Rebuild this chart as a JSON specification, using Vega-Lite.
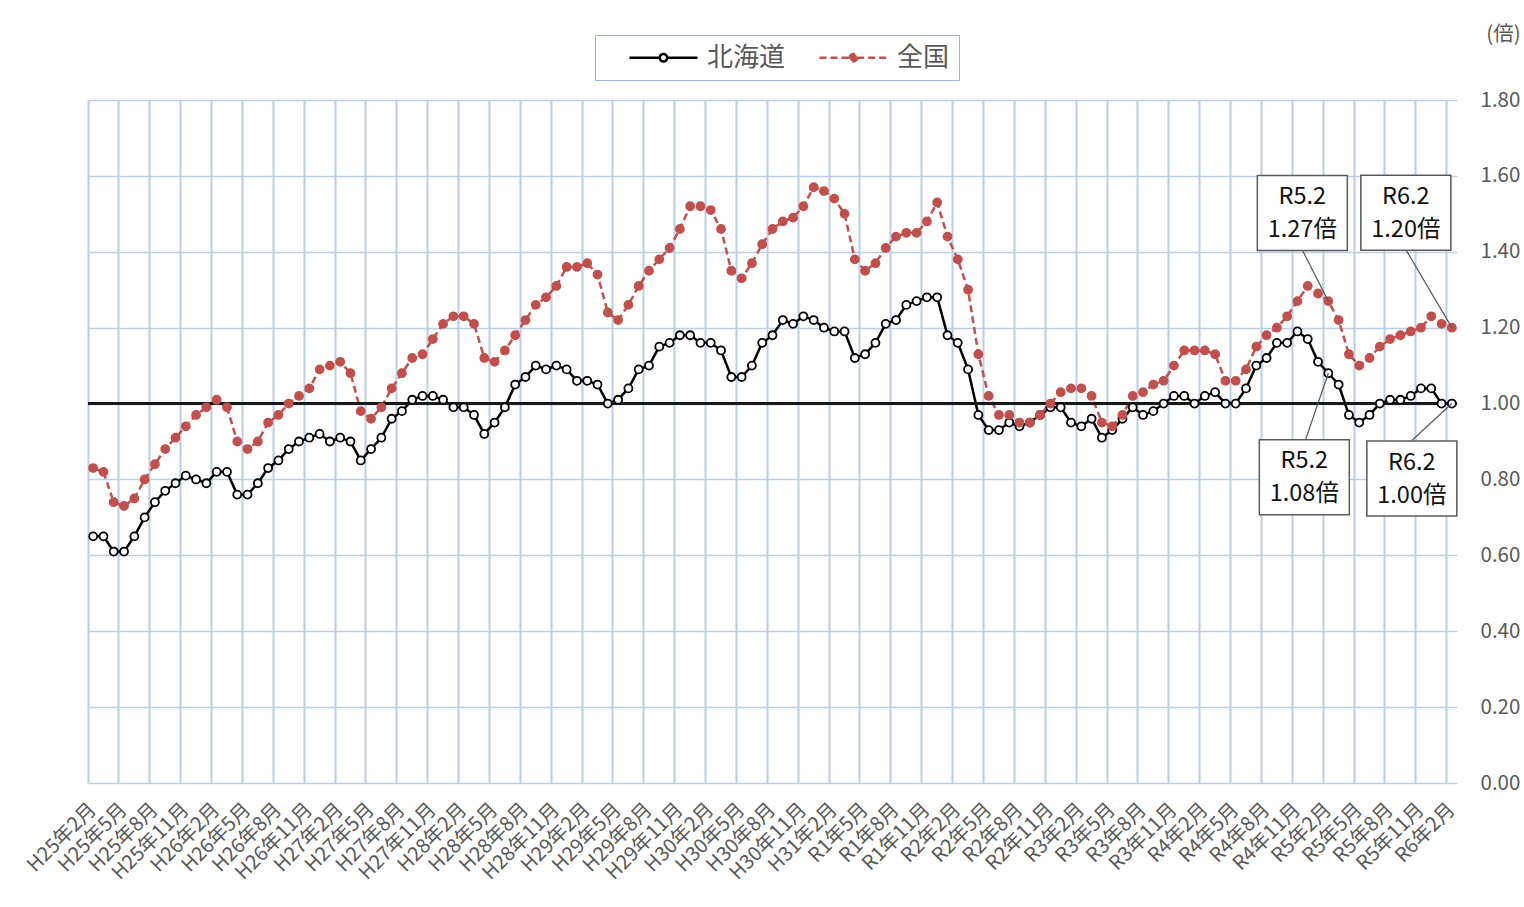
{
  "$schema": "https://vega.github.io/schema/vega-lite/v6.json",
  "width": 1369,
  "height": 683,
  "autosize": {"type": "none"},
  "padding": {"left": 88, "top": 100, "right": 67, "bottom": 124},
  "background": "white",
  "config": {"view": {"stroke": null}, "font": "Noto Sans CJK JP"},
  "data": {"values": [
    {"month":"H25年2月","北海道":0.65,"全国":0.83},
    {"month":"H25年3月","北海道":0.65,"全国":0.82},
    {"month":"H25年4月","北海道":0.61,"全国":0.74},
    {"month":"H25年5月","北海道":0.61,"全国":0.73},
    {"month":"H25年6月","北海道":0.65,"全国":0.75},
    {"month":"H25年7月","北海道":0.70,"全国":0.80},
    {"month":"H25年8月","北海道":0.74,"全国":0.84},
    {"month":"H25年9月","北海道":0.77,"全国":0.88},
    {"month":"H25年10月","北海道":0.79,"全国":0.91},
    {"month":"H25年11月","北海道":0.81,"全国":0.94},
    {"month":"H25年12月","北海道":0.80,"全国":0.97},
    {"month":"H26年1月","北海道":0.79,"全国":0.99},
    {"month":"H26年2月","北海道":0.82,"全国":1.01},
    {"month":"H26年3月","北海道":0.82,"全国":0.99},
    {"month":"H26年4月","北海道":0.76,"全国":0.90},
    {"month":"H26年5月","北海道":0.76,"全国":0.88},
    {"month":"H26年6月","北海道":0.79,"全国":0.90},
    {"month":"H26年7月","北海道":0.83,"全国":0.95},
    {"month":"H26年8月","北海道":0.85,"全国":0.97},
    {"month":"H26年9月","北海道":0.88,"全国":1.00},
    {"month":"H26年10月","北海道":0.90,"全国":1.02},
    {"month":"H26年11月","北海道":0.91,"全国":1.04},
    {"month":"H26年12月","北海道":0.92,"全国":1.09},
    {"month":"H27年1月","北海道":0.90,"全国":1.10},
    {"month":"H27年2月","北海道":0.91,"全国":1.11},
    {"month":"H27年3月","北海道":0.90,"全国":1.08},
    {"month":"H27年4月","北海道":0.85,"全国":0.98},
    {"month":"H27年5月","北海道":0.88,"全国":0.96},
    {"month":"H27年6月","北海道":0.91,"全国":0.99},
    {"month":"H27年7月","北海道":0.96,"全国":1.04},
    {"month":"H27年8月","北海道":0.98,"全国":1.08},
    {"month":"H27年9月","北海道":1.01,"全国":1.12},
    {"month":"H27年10月","北海道":1.02,"全国":1.13},
    {"month":"H27年11月","北海道":1.02,"全国":1.17},
    {"month":"H27年12月","北海道":1.01,"全国":1.21},
    {"month":"H28年1月","北海道":0.99,"全国":1.23},
    {"month":"H28年2月","北海道":0.99,"全国":1.23},
    {"month":"H28年3月","北海道":0.97,"全国":1.21},
    {"month":"H28年4月","北海道":0.92,"全国":1.12},
    {"month":"H28年5月","北海道":0.95,"全国":1.11},
    {"month":"H28年6月","北海道":0.99,"全国":1.14},
    {"month":"H28年7月","北海道":1.05,"全国":1.18},
    {"month":"H28年8月","北海道":1.07,"全国":1.22},
    {"month":"H28年9月","北海道":1.10,"全国":1.26},
    {"month":"H28年10月","北海道":1.09,"全国":1.28},
    {"month":"H28年11月","北海道":1.10,"全国":1.31},
    {"month":"H28年12月","北海道":1.09,"全国":1.36},
    {"month":"H29年1月","北海道":1.06,"全国":1.36},
    {"month":"H29年2月","北海道":1.06,"全国":1.37},
    {"month":"H29年3月","北海道":1.05,"全国":1.34},
    {"month":"H29年4月","北海道":1.00,"全国":1.24},
    {"month":"H29年5月","北海道":1.01,"全国":1.22},
    {"month":"H29年6月","北海道":1.04,"全国":1.26},
    {"month":"H29年7月","北海道":1.09,"全国":1.31},
    {"month":"H29年8月","北海道":1.10,"全国":1.35},
    {"month":"H29年9月","北海道":1.15,"全国":1.38},
    {"month":"H29年10月","北海道":1.16,"全国":1.41},
    {"month":"H29年11月","北海道":1.18,"全国":1.46},
    {"month":"H29年12月","北海道":1.18,"全国":1.52},
    {"month":"H30年1月","北海道":1.16,"全国":1.52},
    {"month":"H30年2月","北海道":1.16,"全国":1.51},
    {"month":"H30年3月","北海道":1.14,"全国":1.46},
    {"month":"H30年4月","北海道":1.07,"全国":1.35},
    {"month":"H30年5月","北海道":1.07,"全国":1.33},
    {"month":"H30年6月","北海道":1.10,"全国":1.37},
    {"month":"H30年7月","北海道":1.16,"全国":1.42},
    {"month":"H30年8月","北海道":1.18,"全国":1.46},
    {"month":"H30年9月","北海道":1.22,"全国":1.48},
    {"month":"H30年10月","北海道":1.21,"全国":1.49},
    {"month":"H30年11月","北海道":1.23,"全国":1.52},
    {"month":"H30年12月","北海道":1.22,"全国":1.57},
    {"month":"H31年1月","北海道":1.20,"全国":1.56},
    {"month":"H31年2月","北海道":1.19,"全国":1.54},
    {"month":"H31年3月","北海道":1.19,"全国":1.50},
    {"month":"H31年4月","北海道":1.12,"全国":1.38},
    {"month":"R1年5月","北海道":1.13,"全国":1.35},
    {"month":"R1年6月","北海道":1.16,"全国":1.37},
    {"month":"R1年7月","北海道":1.21,"全国":1.41},
    {"month":"R1年8月","北海道":1.22,"全国":1.44},
    {"month":"R1年9月","北海道":1.26,"全国":1.45},
    {"month":"R1年10月","北海道":1.27,"全国":1.45},
    {"month":"R1年11月","北海道":1.28,"全国":1.48},
    {"month":"R1年12月","北海道":1.28,"全国":1.53},
    {"month":"R2年1月","北海道":1.18,"全国":1.44},
    {"month":"R2年2月","北海道":1.16,"全国":1.38},
    {"month":"R2年3月","北海道":1.09,"全国":1.30},
    {"month":"R2年4月","北海道":0.97,"全国":1.13},
    {"month":"R2年5月","北海道":0.93,"全国":1.02},
    {"month":"R2年6月","北海道":0.93,"全国":0.97},
    {"month":"R2年7月","北海道":0.95,"全国":0.97},
    {"month":"R2年8月","北海道":0.94,"全国":0.95},
    {"month":"R2年9月","北海道":0.95,"全国":0.95},
    {"month":"R2年10月","北海道":0.97,"全国":0.97},
    {"month":"R2年11月","北海道":0.99,"全国":1.00},
    {"month":"R2年12月","北海道":0.99,"全国":1.03},
    {"month":"R3年1月","北海道":0.95,"全国":1.04},
    {"month":"R3年2月","北海道":0.94,"全国":1.04},
    {"month":"R3年3月","北海道":0.96,"全国":1.02},
    {"month":"R3年4月","北海道":0.91,"全国":0.95},
    {"month":"R3年5月","北海道":0.93,"全国":0.94},
    {"month":"R3年6月","北海道":0.96,"全国":0.97},
    {"month":"R3年7月","北海道":0.99,"全国":1.02},
    {"month":"R3年8月","北海道":0.97,"全国":1.03},
    {"month":"R3年9月","北海道":0.98,"全国":1.05},
    {"month":"R3年10月","北海道":1.00,"全国":1.06},
    {"month":"R3年11月","北海道":1.02,"全国":1.10},
    {"month":"R3年12月","北海道":1.02,"全国":1.14},
    {"month":"R4年1月","北海道":1.00,"全国":1.14},
    {"month":"R4年2月","北海道":1.02,"全国":1.14},
    {"month":"R4年3月","北海道":1.03,"全国":1.13},
    {"month":"R4年4月","北海道":1.00,"全国":1.06},
    {"month":"R4年5月","北海道":1.00,"全国":1.06},
    {"month":"R4年6月","北海道":1.04,"全国":1.09},
    {"month":"R4年7月","北海道":1.10,"全国":1.15},
    {"month":"R4年8月","北海道":1.12,"全国":1.18},
    {"month":"R4年9月","北海道":1.16,"全国":1.20},
    {"month":"R4年10月","北海道":1.16,"全国":1.23},
    {"month":"R4年11月","北海道":1.19,"全国":1.27},
    {"month":"R4年12月","北海道":1.17,"全国":1.31},
    {"month":"R5年1月","北海道":1.11,"全国":1.29},
    {"month":"R5年2月","北海道":1.08,"全国":1.27},
    {"month":"R5年3月","北海道":1.05,"全国":1.22},
    {"month":"R5年4月","北海道":0.97,"全国":1.13},
    {"month":"R5年5月","北海道":0.95,"全国":1.10},
    {"month":"R5年6月","北海道":0.97,"全国":1.12},
    {"month":"R5年7月","北海道":1.00,"全国":1.15},
    {"month":"R5年8月","北海道":1.01,"全国":1.17},
    {"month":"R5年9月","北海道":1.01,"全国":1.18},
    {"month":"R5年10月","北海道":1.02,"全国":1.19},
    {"month":"R5年11月","北海道":1.04,"全国":1.20},
    {"month":"R5年12月","北海道":1.04,"全国":1.23},
    {"month":"R6年1月","北海道":1.00,"全国":1.21},
    {"month":"R6年2月","北海道":1.00,"全国":1.20}
  ]},
  "transform": [{"fold": ["北海道", "全国"], "as": ["series", "v"]}],
  "resolve": {"axis": {"x": "independent"}},
  "layer": [
    {
      "mark": {"type": "line", "strokeWidth": 2.5},
      "encoding": {
        "x": {
          "field": "month", "type": "ordinal", "bandPosition": 0.5,
          "scale": {"type": "band", "paddingInner": 0, "paddingOuter": 0, "domain": ["H25年2月","H25年3月","H25年4月","H25年5月","H25年6月","H25年7月","H25年8月","H25年9月","H25年10月","H25年11月","H25年12月","H26年1月","H26年2月","H26年3月","H26年4月","H26年5月","H26年6月","H26年7月","H26年8月","H26年9月","H26年10月","H26年11月","H26年12月","H27年1月","H27年2月","H27年3月","H27年4月","H27年5月","H27年6月","H27年7月","H27年8月","H27年9月","H27年10月","H27年11月","H27年12月","H28年1月","H28年2月","H28年3月","H28年4月","H28年5月","H28年6月","H28年7月","H28年8月","H28年9月","H28年10月","H28年11月","H28年12月","H29年1月","H29年2月","H29年3月","H29年4月","H29年5月","H29年6月","H29年7月","H29年8月","H29年9月","H29年10月","H29年11月","H29年12月","H30年1月","H30年2月","H30年3月","H30年4月","H30年5月","H30年6月","H30年7月","H30年8月","H30年9月","H30年10月","H30年11月","H30年12月","H31年1月","H31年2月","H31年3月","H31年4月","R1年5月","R1年6月","R1年7月","R1年8月","R1年9月","R1年10月","R1年11月","R1年12月","R2年1月","R2年2月","R2年3月","R2年4月","R2年5月","R2年6月","R2年7月","R2年8月","R2年9月","R2年10月","R2年11月","R2年12月","R3年1月","R3年2月","R3年3月","R3年4月","R3年5月","R3年6月","R3年7月","R3年8月","R3年9月","R3年10月","R3年11月","R3年12月","R4年1月","R4年2月","R4年3月","R4年4月","R4年5月","R4年6月","R4年7月","R4年8月","R4年9月","R4年10月","R4年11月","R4年12月","R5年1月","R5年2月","R5年3月","R5年4月","R5年5月","R5年6月","R5年7月","R5年8月","R5年9月","R5年10月","R5年11月","R5年12月","R6年1月","R6年2月"]},
          "axis": {
            "orient": "bottom",
            "values": ["H25年2月","H25年5月","H25年8月","H25年11月","H26年2月","H26年5月","H26年8月","H26年11月","H27年2月","H27年5月","H27年8月","H27年11月","H28年2月","H28年5月","H28年8月","H28年11月","H29年2月","H29年5月","H29年8月","H29年11月","H30年2月","H30年5月","H30年8月","H30年11月","H31年2月","R1年5月","R1年8月","R1年11月","R2年2月","R2年5月","R2年8月","R2年11月","R3年2月","R3年5月","R3年8月","R3年11月","R4年2月","R4年5月","R4年8月","R4年11月","R5年2月","R5年5月","R5年8月","R5年11月","R6年2月"],
            "bandPosition": 0, "grid": true, "gridColor": "#BCCDE8", "gridWidth": 2,
            "labels": false, "ticks": false, "domain": false, "title": null
          }
        },
        "y": {
          "field": "v", "type": "quantitative",
          "scale": {"domain": [0, 1.8], "nice": false},
          "axis": {
            "orient": "right", "values": [0, 0.2, 0.4, 0.6, 0.8, 1, 1.2, 1.4, 1.6, 1.8], "format": ".2f",
            "grid": true, "gridColor": "#BCCDE8", "gridWidth": 1.5, "domain": false, "ticks": false,
            "labelPadding": 23, "labelAlign": "left", "labelFontSize": 20.5, "labelColor": "#595959",
            "title": "(倍)", "titleAngle": 0, "titleX": 46, "titleY": -66, "titleAlign": "center",
            "titleBaseline": "middle", "titleFontSize": 20.5, "titleFontWeight": "normal", "titleColor": "#595959"
          }
        },
        "color": {
          "field": "series", "type": "nominal",
          "scale": {"domain": ["北海道", "全国"], "range": ["#000000", "#C0504D"]},
          "legend": {
            "orient": "none", "legendX": 507, "legendY": -65, "direction": "horizontal", "title": null,
            "symbolType": "M1,0H3.52M3.52,0A0.31,0.31 0 1,1 4.14,0A0.31,0.31 0 1,1 3.52,0ZM4.14,0H6.667",
            "symbolSize": 576, "symbolStrokeWidth": 2.5, "labelFontSize": 26, "labelColor": "#595959",
            "labelOffset": 76, "columnPadding": 8, "padding": 9, "strokeColor": "#9DB5DC", "fillColor": "white"
          }
        },
        "strokeDash": {
          "field": "series", "type": "nominal",
          "scale": {"domain": ["北海道", "全国"], "range": [[1, 0], [7, 4]]},
          "legend": {
            "orient": "none", "legendX": 507, "legendY": -65, "direction": "horizontal", "title": null,
            "symbolType": "M1,0H3.52M3.52,0A0.31,0.31 0 1,1 4.14,0A0.31,0.31 0 1,1 3.52,0ZM4.14,0H6.667",
            "symbolSize": 576, "symbolStrokeWidth": 2.5, "labelFontSize": 26, "labelColor": "#595959",
            "labelOffset": 76, "columnPadding": 8, "padding": 9, "strokeColor": "#9DB5DC", "fillColor": "white"
          }
        }
      }
    },
    {
      "mark": {"type": "rule", "color": "#1a1a1a", "strokeWidth": 1.6},
      "encoding": {"y": {"datum": 1, "type": "quantitative"}}
    },
    {
      "mark": {"type": "point", "filled": false, "size": 64, "strokeWidth": 1.8, "opacity": 1},
      "encoding": {
        "x": {
          "field": "month", "type": "ordinal", "bandPosition": 0.5,
          "axis": {
            "orient": "bottom",
            "values": ["H25年2月","H25年5月","H25年8月","H25年11月","H26年2月","H26年5月","H26年8月","H26年11月","H27年2月","H27年5月","H27年8月","H27年11月","H28年2月","H28年5月","H28年8月","H28年11月","H29年2月","H29年5月","H29年8月","H29年11月","H30年2月","H30年5月","H30年8月","H30年11月","H31年2月","R1年5月","R1年8月","R1年11月","R2年2月","R2年5月","R2年8月","R2年11月","R3年2月","R3年5月","R3年8月","R3年11月","R4年2月","R4年5月","R4年8月","R4年11月","R5年2月","R5年5月","R5年8月","R5年11月","R6年2月"],
            "grid": false, "ticks": false, "domain": false, "title": null,
            "labelAngle": -45, "labelAlign": "right", "labelBaseline": "middle", "labelPadding": 23,
            "labelFontSize": 20, "labelColor": "#595959", "labelOverlap": false
          }
        },
        "y": {"field": "v", "type": "quantitative"},
        "color": {
          "field": "series", "type": "nominal",
          "legend": {
            "orient": "none", "legendX": 507, "legendY": -65, "direction": "horizontal", "title": null,
            "symbolType": "M1,0H3.52M3.52,0A0.31,0.31 0 1,1 4.14,0A0.31,0.31 0 1,1 3.52,0ZM4.14,0H6.667",
            "symbolSize": 576, "symbolStrokeWidth": 2.5, "labelFontSize": 26, "labelColor": "#595959",
            "labelOffset": 76, "columnPadding": 8, "padding": 9, "strokeColor": "#9DB5DC", "fillColor": "white"
          }
        },
        "fill": {
          "field": "series", "type": "nominal",
          "scale": {"domain": ["北海道", "全国"], "range": ["#ffffff", "#C0504D"]},
          "legend": {
            "orient": "none", "legendX": 507, "legendY": -65, "direction": "horizontal", "title": null,
            "symbolType": "M1,0H3.52M3.52,0A0.31,0.31 0 1,1 4.14,0A0.31,0.31 0 1,1 3.52,0ZM4.14,0H6.667",
            "symbolSize": 576, "symbolStrokeWidth": 2.5, "labelFontSize": 26, "labelColor": "#595959",
            "labelOffset": 76, "columnPadding": 8, "padding": 9, "strokeColor": "#9DB5DC", "fillColor": "white"
          }
        }
      }
    },
    {
      "data": {"values": [{"month": "R5年2月", "v": 1.27, "label": "R5.2\n1.27倍"}]},
      "encoding": {
        "x": {"field": "month", "type": "ordinal", "bandPosition": 0.5, "axis": null},
        "y": {"field": "v", "type": "quantitative"}
      },
      "layer": [
        {"mark": {"type": "rule", "stroke": "#595959", "strokeWidth": 1.2, "x2Offset": -26, "y2Offset": -51},
         "encoding": {"x2": {"field": "month", "bandPosition": 0.5}, "y2": {"field": "v"}}},
        {"mark": {"type": "point", "shape": "M-1,-0.833H1V0.833H-1Z", "size": 8100, "filled": true, "fill": "white", "stroke": "#595959", "strokeWidth": 1.5, "opacity": 1, "xOffset": -26, "yOffset": -88}},
        {"mark": {"type": "text", "lineBreak": "\n", "fontSize": 23.5, "lineHeight": 33, "align": "center", "baseline": "middle", "color": "#111111", "xOffset": -26, "yOffset": -104},
         "encoding": {"text": {"field": "label"}}}
      ]
    },
    {
      "data": {"values": [{"month": "R6年2月", "v": 1.2, "label": "R6.2\n1.20倍"}]},
      "encoding": {
        "x": {"field": "month", "type": "ordinal", "bandPosition": 0.5, "axis": null},
        "y": {"field": "v", "type": "quantitative"}
      },
      "layer": [
        {"mark": {"type": "rule", "stroke": "#595959", "strokeWidth": 1.2, "x2Offset": -46, "y2Offset": -78},
         "encoding": {"x2": {"field": "month", "bandPosition": 0.5}, "y2": {"field": "v"}}},
        {"mark": {"type": "point", "shape": "M-1,-0.833H1V0.833H-1Z", "size": 8100, "filled": true, "fill": "white", "stroke": "#595959", "strokeWidth": 1.5, "opacity": 1, "xOffset": -46, "yOffset": -115}},
        {"mark": {"type": "text", "lineBreak": "\n", "fontSize": 23.5, "lineHeight": 33, "align": "center", "baseline": "middle", "color": "#111111", "xOffset": -46, "yOffset": -131},
         "encoding": {"text": {"field": "label"}}}
      ]
    },
    {
      "data": {"values": [{"month": "R5年2月", "v": 1.08, "label": "R5.2\n1.08倍"}]},
      "encoding": {
        "x": {"field": "month", "type": "ordinal", "bandPosition": 0.5, "axis": null},
        "y": {"field": "v", "type": "quantitative"}
      },
      "layer": [
        {"mark": {"type": "rule", "stroke": "#595959", "strokeWidth": 1.2, "x2Offset": -23, "y2Offset": 67},
         "encoding": {"x2": {"field": "month", "bandPosition": 0.5}, "y2": {"field": "v"}}},
        {"mark": {"type": "point", "shape": "M-1,-0.833H1V0.833H-1Z", "size": 8100, "filled": true, "fill": "white", "stroke": "#595959", "strokeWidth": 1.5, "opacity": 1, "xOffset": -24, "yOffset": 104}},
        {"mark": {"type": "text", "lineBreak": "\n", "fontSize": 23.5, "lineHeight": 33, "align": "center", "baseline": "middle", "color": "#111111", "xOffset": -24, "yOffset": 88},
         "encoding": {"text": {"field": "label"}}}
      ]
    },
    {
      "data": {"values": [{"month": "R6年2月", "v": 1.0, "label": "R6.2\n1.00倍"}]},
      "encoding": {
        "x": {"field": "month", "type": "ordinal", "bandPosition": 0.5, "axis": null},
        "y": {"field": "v", "type": "quantitative"}
      },
      "layer": [
        {"mark": {"type": "rule", "stroke": "#595959", "strokeWidth": 1.2, "x2Offset": -40, "y2Offset": 37},
         "encoding": {"x2": {"field": "month", "bandPosition": 0.5}, "y2": {"field": "v"}}},
        {"mark": {"type": "point", "shape": "M-1,-0.833H1V0.833H-1Z", "size": 8100, "filled": true, "fill": "white", "stroke": "#595959", "strokeWidth": 1.5, "opacity": 1, "xOffset": -40, "yOffset": 75}},
        {"mark": {"type": "text", "lineBreak": "\n", "fontSize": 23.5, "lineHeight": 33, "align": "center", "baseline": "middle", "color": "#111111", "xOffset": -40, "yOffset": 59},
         "encoding": {"text": {"field": "label"}}}
      ]
    }
  ]
}
